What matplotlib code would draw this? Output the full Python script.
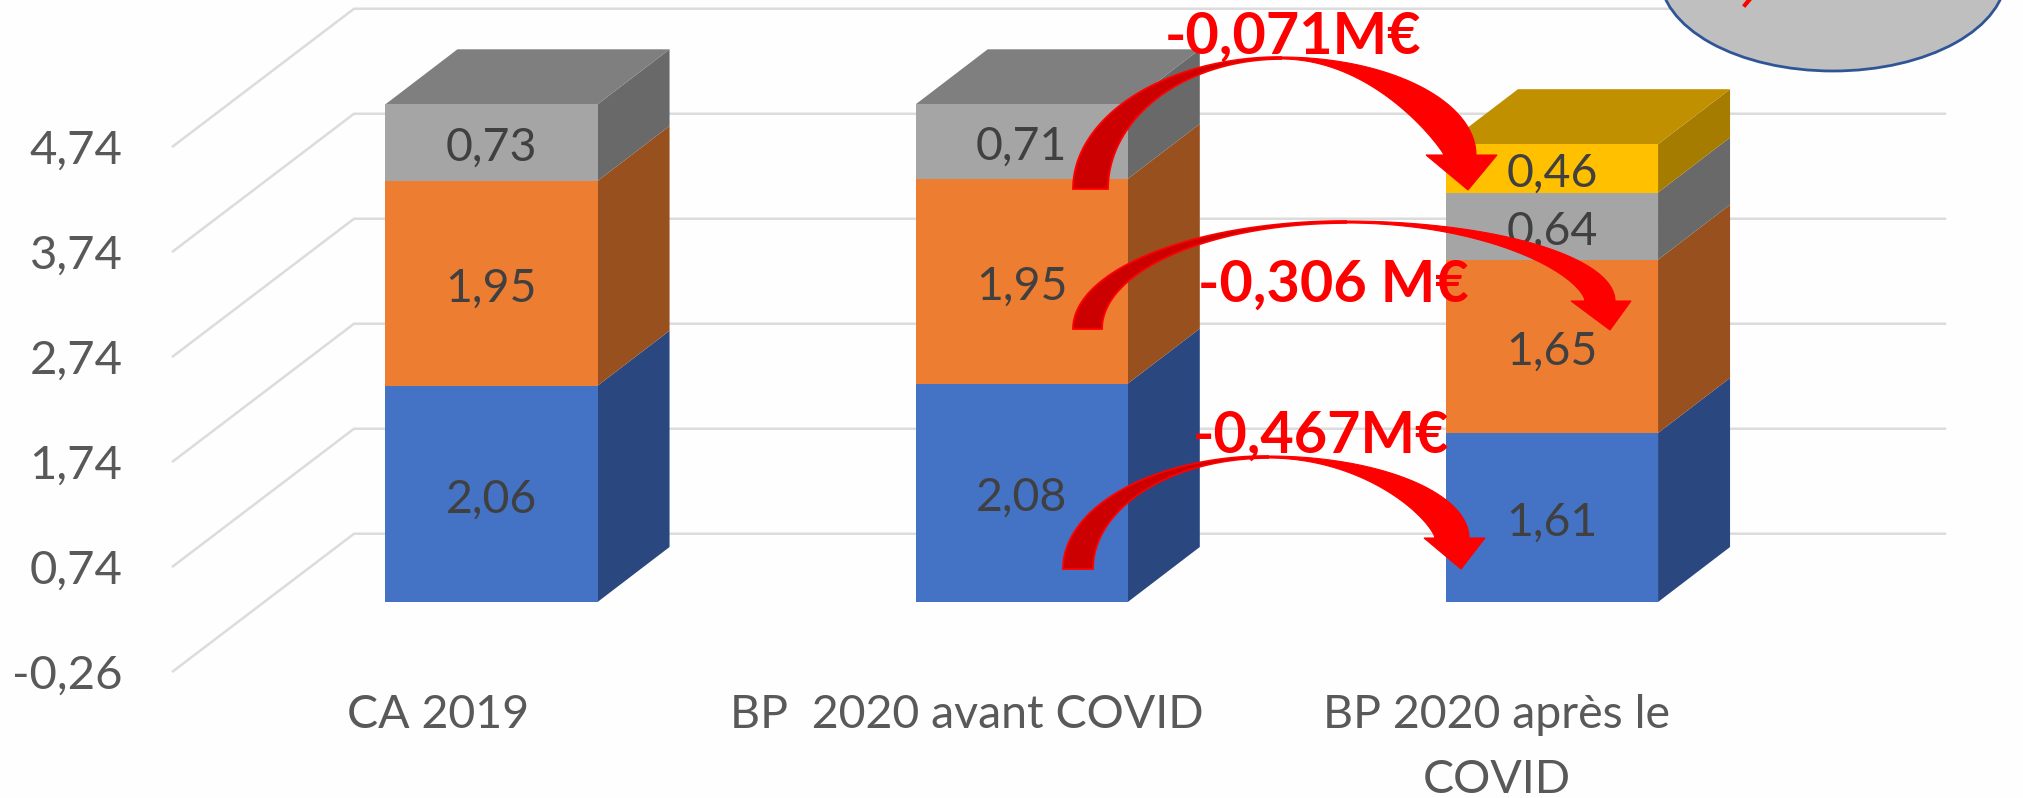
import numpy as np
import matplotlib
matplotlib.use("Agg")
import matplotlib.pyplot as plt
from matplotlib.patches import Ellipse

plt.rcParams['font.family'] = ['Lato', 'DejaVu Sans']

categories = ["CA 2019", "BP  2020 avant COVID", "BP 2020 après le\nCOVID"]
tick_values = [-0.26, 0.74, 1.74, 2.74, 3.74, 4.74]
tick_labels = ["-0,26", "0,74", "1,74", "2,74", "3,74", "4,74"]

serie_bleue = [2.06, 2.08, 1.61]
serie_orange = [1.95, 1.95, 1.65]
serie_grise = [0.73, 0.71, 0.64]
serie_jaune = [0, 0, 0.46]
series = [serie_bleue, serie_orange, serie_grise, serie_jaune]

face_colors = ["#4472C4", "#ED7D31", "#A5A5A5", "#FFC000"]
side_colors = ["#2A4780", "#97501E", "#696969", "#A67C00"]
top_colors = ["#2F5597", "#BE6425", "#7F7F7F", "#C09000"]

W, H = 2024, 798
SX, SY = 530.25, 105.0
X0, Y0 = 491.5, 602
fig = plt.figure(figsize=(W / 100, H / 100), dpi=100, facecolor="#FEFEFE")

# full figure axes, x in category units, y in value units
ax = fig.add_axes([0, 0, 1, 1])
ax.set_xlim(-X0 / SX, (W - X0) / SX)
ax.set_ylim((Y0 - H) / SY, Y0 / SY)
ax.axis("off")

bar_w = 0.40
depth_x = 72 / SX
depth_y = 55 / SY
grey = "#595959"
dark = "#404040"

# gridlines on the back wall and the floor edge
for t, lab in zip(tick_values, tick_labels):
    ax.plot([(173 - X0) / SX, (354 - X0) / SX, (1945 - X0) / SX],
            [t - 0.40, t + 0.91, t + 0.91],
            color="#DCDCDC", lw=1.8, zorder=1, solid_joinstyle="miter")
    ax.text((122.5 - X0) / SX, t - 0.40 - 0.162, lab, ha="right", va="baseline",
            fontsize=34, color=grey)

x = np.arange(len(categories))
bottom = np.zeros(len(categories))
for s, vals in enumerate(series):
    vals = np.array(vals)
    for i in x:
        if vals[i] == 0:
            continue
        right = i + bar_w / 2
        y0, y1 = bottom[i], bottom[i] + vals[i]
        ax.fill([right, right + depth_x, right + depth_x, right],
                [y0, y0 + depth_y, y1 + depth_y, y1],
                color=side_colors[s], lw=0, zorder=2)
        ax.text(i, (y0 + y1) / 2 - 0.175, f"{vals[i]:.2f}".replace(".", ","),
                ha="center", va="baseline", fontsize=33.5, color=dark, zorder=5)
    ax.bar(x[vals > 0], vals[vals > 0], bar_w, bottom=bottom[vals > 0],
           color=face_colors[s], lw=0, zorder=3)
    bottom = bottom + vals

# top face takes the colour of the highest segment
for i in x:
    top_s = max(s for s in range(len(series)) if series[s][i] > 0)
    left = i - bar_w / 2
    ax.fill([left, left + depth_x, left + bar_w + depth_x, left + bar_w],
            [bottom[i], bottom[i] + depth_y, bottom[i] + depth_y, bottom[i]],
            color=top_colors[top_s], lw=0, zorder=2)

# category labels sit to the left of the bars
for i, cat in enumerate(categories):
    for j, line in enumerate(cat.split("\n")):
        ax.text(i + [-0.1, -0.103, -0.105][i], (Y0 - 728 - 65 * j) / SY, line,
                ha="center", va="baseline", fontsize=33.5, color=grey)

# overlay in pixels for the shapes drawn on top of the chart
ov = fig.add_axes([0, 0, 1, 1], facecolor="none")
ov.set_xlim(0, W)
ov.set_ylim(H, 0)
ov.axis("off")


def curved_arrow(x0, x1, y0, xp, yp, yn, xn0, xn1, xh0, xh1, xt, yt, p):
    t = np.linspace(np.pi, np.pi / 2, 60)
    # rising part, darker face
    ox = xp + (xp - x0) * np.cos(t)
    oy = y0 - (y0 - yp) * np.sin(t)
    ix = xp + (xp - x1) * np.cos(t)
    iy = y0 - (y0 - yp - 2) * np.sin(t)
    ov.fill(np.r_[ox, ix[::-1]], np.r_[oy, iy[::-1]], facecolor="#CC0000",
            edgecolor="#FF0000", lw=1.3, zorder=3)
    # falling part and head
    t = np.linspace(np.pi / 2, 0, 60)
    ox = xp + (xn1 - xp) * np.cos(t)
    oy = yn - (yn - yp) * np.sin(t)
    ix = xp + (xn0 - xp) * np.cos(t)
    iy = yn - (yn - yp - 2) * np.sin(t) ** p
    px = np.r_[ox, xh1, xt, xh0, ix[::-1]]
    py = np.r_[oy, yn, yt, yn, iy[::-1]]
    ov.fill(px, py, facecolor="#FF0000", edgecolor="#FF0000", lw=0.8, zorder=4)


curved_arrow(1073, 1108, 189, 1281, 57, 155, 1444, 1476, 1426, 1497, 1468, 190, 1.8)
curved_arrow(1073, 1102, 329, 1346, 221, 301, 1585, 1615, 1571, 1631, 1610, 330, 1.3)
curved_arrow(1063, 1093, 569, 1268, 456, 538, 1435, 1469, 1424, 1485, 1461, 569, 1.5)

ov.text(1293, 54, "-0,071M€", ha="center", va="baseline", fontsize=41.5,
        fontweight="bold", color="#FF0000", zorder=6)
ov.text(1333, 302, "-0,306 M€", ha="center", va="baseline", fontsize=41.5,
        fontweight="bold", color="#FF0000", zorder=6)
ov.text(1321, 453, "-0,467M€", ha="center", va="baseline", fontsize=41.5,
        fontweight="bold", color="#FF0000", zorder=6)

# cropped callout in the top right corner
ov.add_patch(Ellipse((1833, -25), 346, 192, facecolor="#BFBFBF",
                     edgecolor="#2F5597", lw=2, zorder=2))
ov.plot([1745, 1750], [5, -1], color="#FF0000", lw=3, zorder=3)

fig.savefig("out.png", dpi=100, facecolor=fig.get_facecolor())
